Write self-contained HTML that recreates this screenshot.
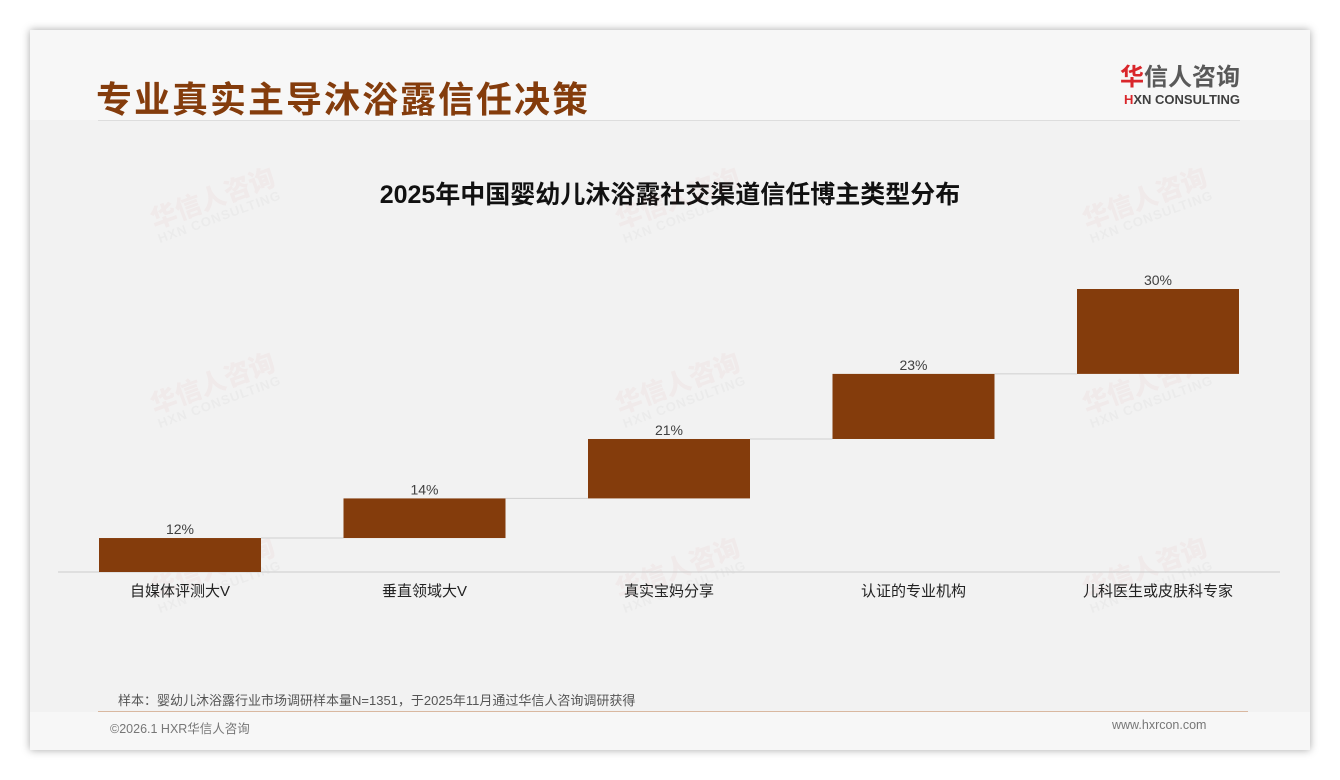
<!DOCTYPE html>
<html><head><meta charset="utf-8">
<style>
body{margin:0;width:1340px;height:780px;background:#fff;font-family:"Liberation Sans","Noto Sans CJK SC",sans-serif;position:relative;overflow:hidden}
.card{position:absolute;left:30px;top:30px;width:1280px;height:720px;background:#f2f2f2;box-shadow:0 0 8px rgba(0,0,0,.35)}
.hdr{position:absolute;left:0;top:0;width:1280px;height:90px;background:#f7f7f7}
.ftr{position:absolute;left:0;top:682px;width:1280px;height:38px;background:#f7f7f7}
.wm{position:absolute;transform:rotate(-20deg);color:rgba(200,60,60,0.045);font-weight:bold;line-height:1}
.wm b{display:block;font-size:26px}
.wm i{display:block;font-style:normal;font-size:13px;color:rgba(120,120,120,0.05);letter-spacing:1px}
</style></head><body>
<div class="card">
<div class="hdr"></div>
<div class="ftr"></div>
</div>
<div style="position:absolute;left:96px;top:71px;font-size:36px;font-weight:bold;color:#843c0c;letter-spacing:2px">专业真实主导沐浴露信任决策</div>
<div style="position:absolute;left:98px;top:120px;width:1142px;height:1px;background:#ddd"></div>
<div style="position:absolute;left:1100px;top:64px;text-align:right;width:140px">
<div style="font-size:24px;font-weight:bold;color:#595959;line-height:28px"><span style="color:#d9262b">华</span>信人咨询</div>
<div style="font-size:13px;font-weight:bold;color:#404040;line-height:16px"><span style="color:#d9262b">H</span>XN CONSULTING</div>
</div>
<div style="position:absolute;left:0;width:1340px;top:175px;text-align:center;font-size:25px;font-weight:bold;color:#111">2025年中国婴幼儿沐浴露社交渠道信任博主类型分布</div>
<div id="wms"></div>
<svg id="chart" width="1340" height="780" style="position:absolute;left:0;top:0"></svg>
<div style="position:absolute;left:118px;top:690px;font-size:13px;color:#555">样本：婴幼儿沐浴露行业市场调研样本量N=1351，于2025年11月通过华信人咨询调研获得</div>
<div style="position:absolute;left:98px;top:711px;width:1150px;height:1px;background:#d9b8a0"></div>
<div style="position:absolute;left:110px;top:718px;font-size:12.5px;color:#777">©2026.1 HXR华信人咨询</div>
<div style="position:absolute;left:1112px;top:718px;font-size:12.5px;color:#777">www.hxrcon.com</div>
<script>
const categories=["自媒体评测大V","垂直领域大V","真实宝妈分享","认证的专业机构","儿科医生或皮肤科专家"];
const values=[12,14,21,23,30];
const valueLabels=["12%","14%","21%","23%","30%"];
const NS="http://www.w3.org/2000/svg";
const svg=document.getElementById('chart');
const base=572, scale=2.83, x0=180, step=244.5, bw=162;
const xc=i=>x0+i*step;
const y=v=>base-v*scale;
function mk(t,a){const e=document.createElementNS(NS,t);for(const k in a)e.setAttribute(k,a[k]);svg.appendChild(e);return e;}
const ax=mk('line',{x1:58,x2:1280,y1:base,y2:base,stroke:'#ccc','stroke-width':1});


let cum=0;
values.forEach((v,i)=>{
  const top=y(cum+v), bot=y(cum);
  const r=mk('rect',{x:xc(i)-bw/2,y:top,width:bw,height:bot-top,fill:'#843c0c'});
  
  
  if(i<values.length-1){
    const c=mk('line',{x1:xc(i)+bw/2,x2:xc(i+1)-bw/2,y1:top,y2:top,stroke:'#d0d0d0','stroke-width':1});
    
    
  }
  const t=mk('text',{x:xc(i),y:top-4,'text-anchor':'middle','font-size':14,fill:'#404040'});
  t.textContent=valueLabels[i];
  
  
  const c2=mk('text',{x:xc(i),y:base+24,'text-anchor':'middle','font-size':15,fill:'#222'});
  c2.textContent=categories[i];
  
  
  cum+=v;
});
const wms=document.getElementById('wms');
[[150,185],[615,185],[1082,185],[150,370],[615,370],[1082,370],[150,555],[615,555],[1082,555]].forEach(p=>{
  const d=document.createElement('div');
  d.className='wm';
  d.style.left=p[0]+'px';d.style.top=p[1]+'px';
  d.innerHTML='<b>华信人咨询</b><i>HXN CONSULTING</i>';
  
  
  wms.appendChild(d);
});
</script>
</body></html>
